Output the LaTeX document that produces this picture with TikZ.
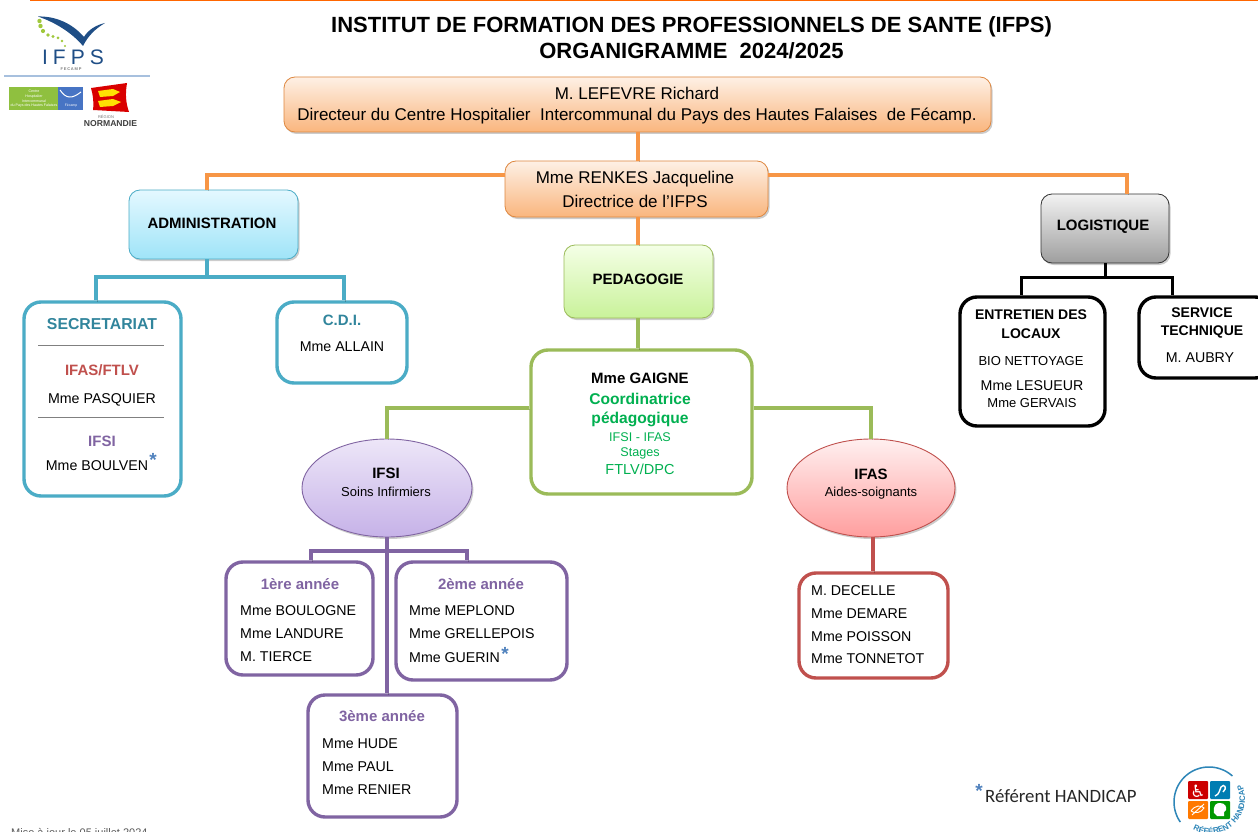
\documentclass[tikz,border=0pt]{standalone}
\usepackage{fontspec}
\setmainfont{Liberation Sans}
\newfontfamily\carl{Carlito}
\newfontfamily\dejav{DejaVu Sans}
\usetikzlibrary{shadows,shapes.geometric,decorations.text,calc}
\newcommand\fs[1]{\fontsize{#1}{#1}\selectfont}
\definecolor{cteal}{HTML}{4BACC6}
\definecolor{cgreen}{HTML}{9BBB59}
\definecolor{cpurple}{HTML}{8064A2}
\definecolor{cred}{HTML}{C0504D}
\definecolor{corange}{HTML}{F79646}
\definecolor{ctext}{HTML}{00B050}
\definecolor{cnavy}{HTML}{1F4E86}
\definecolor{cstar}{HTML}{4F81BD}
\definecolor{tteal}{HTML}{31859C}
\definecolor{torange}{HTML}{FF6600}
\definecolor{cbadge}{HTML}{2E86B8}
\definecolor{cdots}{HTML}{A0C83C}
\definecolor{clogo}{HTML}{8FC03F}
\definecolor{admtop}{HTML}{E4F8FF}
\definecolor{admbot}{HTML}{9FE4F8}
\definecolor{pedtop}{HTML}{F4FFE6}
\definecolor{pedbot}{HTML}{C9F29A}
\definecolor{ifstop}{HTML}{EDE6F8}
\definecolor{ifsbot}{HTML}{C6B2E8}
\tikzset{
  x=1pt,y=-1pt,
  sh/.style={drop shadow={shadow xshift=1.5pt,shadow yshift=-2pt,opacity=.2,fill=black}},
  grad/.style={draw=#1,line width=.8pt,rounded corners=11pt,sh,inner sep=0pt},
  wbox/.style={draw=#1,line width=3.4pt,rounded corners=17pt,fill=white,inner sep=0pt},
  ell/.style={ellipse,draw=#1,line width=.9pt,inner sep=0pt,sh},
  wire/.style={draw=#1,line width=3.4pt,preaction={draw=black,opacity=.2,transform canvas={xshift=.8pt,yshift=-1.2pt}}},
  t/.style={inner sep=0pt,anchor=center,text=#1,yshift=-1pt},
  t/.default=black,
  l/.style={inner sep=0pt,anchor=west,font=\fs{14.2},yshift=-1pt},
  b/.style={font=\bfseries\fs{15}},
  n/.style={font=\fs{14.2}},
  orangegrad/.style={top color=corange!14,bottom color=corange!70},
}
\newcommand\bx[7]{%
  \node[#2,minimum width=#5pt-#3pt,minimum height=#6pt-#4pt,#7] (#1) at ({(#3+#5)/2},{(#4+#6)/2}) {};}
\begin{document}
\begin{tikzpicture}
\useasboundingbox (0,0) rectangle (1258,832);
\fill[white] (0,0) rectangle (1258,832);
\draw[torange,line width=1.2pt] (30,.5) -- (1258,.5);

% titles
\node[t,font=\bfseries\fs{22}] (title1) at (691.5,26) {INSTITUT DE FORMATION DES PROFESSIONNELS DE SANTE (IFPS)};
\node[t,font=\bfseries\fs{22}] (title2) at (691.5,50) {ORGANIGRAMME\ \ 2024/2025};

% coloured boxes
\bx{dir}{grad=corange!90!black}{284}{77}{991}{132}{orangegrad}
\bx{renkes}{grad=corange!90!black}{505}{161}{768}{217}{orangegrad}
\bx{admin}{grad=cteal}{129}{190}{298}{259}{top color=admtop,bottom color=admbot}
\bx{peda}{grad=cgreen}{564}{245}{713}{318}{top color=pedtop,bottom color=pedbot}
\bx{logi}{grad=black!80}{1041}{194}{1169}{263}{top color=black!5,bottom color=black!38}
\bx{ifsi}{ell=cpurple}{302}{439}{472}{537}{top color=ifstop,bottom color=ifsbot}
\bx{ifas}{ell=cred}{787}{439}{955}{537}{top color=red!6,bottom color=red!38}

% white boxes
\bx{secr}{wbox=cteal}{24}{302}{181}{496}{}
\bx{cdi}{wbox=cteal}{277}{302}{407}{383}{}
\bx{ent}{wbox=black}{960}{297}{1105}{426}{}
\bx{serv}{wbox=black}{1139}{297}{1272}{378}{}
\bx{gaigne}{wbox=cgreen}{531}{350}{752}{494}{}
\bx{an1}{wbox=cpurple}{226}{562}{373}{675}{}
\bx{an2}{wbox=cpurple}{396}{562}{567}{680}{}
\bx{an3}{wbox=cpurple}{308}{695}{457}{817}{}
\bx{ifasl}{wbox=cred}{799}{573}{948}{678}{}

% helper columns and rows for the connectors
\coordinate (xC) at (638,0);
\coordinate (xA) at (207,0);
\coordinate (xL) at (1127,0);
\coordinate (xS) at (96,0);
\coordinate (xD) at (344,0);
\coordinate (xE) at (1021,0);
\coordinate (xV) at (1172,0);
\coordinate (xI) at (387,0);
\coordinate (xF) at (871,0);
\coordinate (xG) at (873,0);
\coordinate (xK) at (1105,0);
\coordinate (x1) at (311,0);
\coordinate (x2) at (467,0);
\coordinate (yR) at (0,175);
\coordinate (yA) at (0,277);
\coordinate (yG) at (0,408);
\coordinate (yI) at (0,551);

% connectors
\draw[wire=corange] (xC |- dir.south) -- (xC |- renkes.north);
\draw[wire=corange] (renkes.west |- yR) -| (xA |- admin.north);
\draw[wire=corange] (renkes.east |- yR) -| (xL |- logi.north);
\draw[wire=corange] (xC |- renkes.south) -- (xC |- peda.north);
\draw[wire=cgreen] (xC |- peda.south) -- (xC |- gaigne.north);
\draw[wire=cgreen] (gaigne.west |- yG) -| (xI |- ifsi.north);
\draw[wire=cgreen] (gaigne.east |- yG) -| (xF |- ifas.north);
\draw[wire=cteal] (xA |- admin.south) -- (xA |- yA);
\draw[wire=cteal] (xS |- secr.north) |- (xD |- yA) -- (xD |- cdi.north);
\draw[wire=black,line width=3pt] (xK |- logi.south) -- (xK |- yA);
\draw[wire=black,line width=3pt] (xE |- ent.north) |- (xV |- yA) -- (xV |- serv.north);
\draw[wire=cpurple] (xI |- ifsi.south) -- (xI |- an3.north);
\draw[wire=cpurple] (x1 |- an1.north) |- (x2 |- yI) -- (x2 |- an2.north);
\draw[wire=cred] (xG |- ifas.south) -- (xG |- ifasl.north);

% text of the upper boxes
\node[t,font=\fs{17}] (d1) at (637,92) {M. LEFEVRE Richard};
\node[t,font=\fs{17}] (d2) at (637,115.5) {Directeur du Centre Hospitalier\ \ Intercommunal du Pays des Hautes Falaises\ \ de Fécamp.};
\node[t,font=\fs{17}] (r1) at (635,178) {Mme RENKES Jacqueline};
\node[t,font=\fs{17}] (r2) at (635,200) {Directrice de l’IFPS};
\node[t,b] (ad) at (212,222) {ADMINISTRATION};
\node[t,b] (pe) at (638,278) {PEDAGOGIE};
\node[t,b] (lo) at (1103,226) {LOGISTIQUE};

% secretariat
\node[t=tteal,font=\bfseries\fs{15.8}] (s1) at (102,323) {SECRETARIAT};
\draw[black!50,line width=.8pt] (38,345.5) -- (164,345.5);
\node[t=cred,b] (s2) at (102,369) {IFAS/FTLV};
\node[t,n] (s3) at (102,399) {Mme PASQUIER};
\draw[black!50,line width=.8pt] (38,417) -- (164,417);
\node[t=cpurple,b] (s4) at (102,440) {IFSI};
\node[t,n] (s5) at (97,465) {Mme BOULVEN};
\node[t=cstar,font=\bfseries\fs{19}] (s6) at (153,459) {*};

% cdi
\node[t=tteal,b] (c1) at (342,319) {C.D.I.};
\node[t,n] (c2) at (342,346) {Mme ALLAIN};

% logistique children
\node[t,font=\bfseries\fs{14}] (e1) at (1031,314) {ENTRETIEN DES};
\node[t,font=\bfseries\fs{14}] (e2) at (1031,333) {LOCAUX};
\node[t,font=\fs{13}] (e3) at (1031,360) {BIO NETTOYAGE};
\node[t,n] (e4) at (1032,385) {Mme LESUEUR};
\node[t,font=\fs{13}] (e5) at (1032,402) {Mme GERVAIS};
\node[t,font=\bfseries\fs{14}] (f1) at (1202,312) {SERVICE};
\node[t,font=\bfseries\fs{14}] (f2) at (1202,331) {TECHNIQUE};
\node[t,n] (f3) at (1200,357) {M. AUBRY};

% gaigne
\node[t,font=\bfseries\fs{15}] (g1) at (640,377) {Mme GAIGNE};
\node[t=ctext,font=\bfseries\fs{15.6}] (g2) at (640,398) {Coordinatrice};
\node[t=ctext,font=\bfseries\fs{15.6}] (g3) at (640,418) {pédagogique};
\node[t=ctext,font=\fs{12.6}] (g4) at (640,436) {IFSI - IFAS};
\node[t=ctext,font=\fs{12.6}] (g5) at (640,452) {Stages};
\node[t=ctext,font=\fs{14.5}] (g6) at (640,468) {FTLV/DPC};

% ellipses
\node[t,b] (i1) at (386,472) {IFSI};
\node[t,font=\fs{13}] (i2) at (386,491) {Soins Infirmiers};
\node[t,b] (a1) at (871,473) {IFAS};
\node[t,font=\fs{13}] (a2) at (871,492) {Aides-soignants};

% years
\node[t=cpurple,b] (y1) at (300,583) {1ère année};
\node[l] (y1a) at (240,610) {Mme BOULOGNE};
\node[l] (y1b) at (240,633) {Mme LANDURE};
\node[l] (y1c) at (240,656) {M. TIERCE};
\node[t=cpurple,b] (y2) at (481,583) {2ème année};
\node[l] (y2a) at (409,610) {Mme MEPLOND};
\node[l] (y2b) at (409,633) {Mme GRELLEPOIS};
\node[l] (y2c) at (409,657) {Mme GUERIN};
\node[t=cstar,font=\bfseries\fs{19}] (y2s) at (505,653) {*};
\node[t=cpurple,b] (y3) at (382,715) {3ème année};
\node[l] (y3a) at (322,743) {Mme HUDE};
\node[l] (y3b) at (322,766) {Mme PAUL};
\node[l] (y3c) at (322,789) {Mme RENIER};

% ifas staff
\node[l] (z1) at (811,590) {M. DECELLE};
\node[l] (z2) at (811,613) {Mme DEMARE};
\node[l] (z3) at (811,636) {Mme POISSON};
\node[l] (z4) at (811,658) {Mme TONNETOT};

% referent
\node[t=cstar,font=\bfseries\fs{19}] (rs) at (979,790) {*};
\node[inner sep=0pt,anchor=west,font=\carl\fs{18.8},text=black!85] (rt) at (985,796) {Référent HANDICAP};

% footnote, cut by the page edge
\node[inner sep=0pt,anchor=west,font=\fs{11},text=black!65] (fn) at (11,834) {Mise à jour le 05 juillet 2024};

% IFPS logo
\fill[cnavy] (38,16.5) .. controls (55,16) and (72,23) .. (84,37)
  .. controls (88,30) and (96,25) .. (105,23)
  .. controls (95,29) and (88,36) .. (83,46)
  .. controls (73,34) and (57,23) .. (38,16.5) -- cycle;
\foreach \p/\r in {(39.5,21)/2.2,(40.5,26)/2.2,(43,31)/2.1,(48,35)/1.9,(53,36.5)/1.7,(58,38)/1.5,(62,41)/1.3,(65,46)/1.1}
  \fill[cdots] \p circle (\r);
\node[t=cnavy,font=\fs{21}\addfontfeature{LetterSpace=24}] (lg1) at (73,56) {IFPS};
\node[t=black!50,font=\bfseries\fs{4}\addfontfeature{LetterSpace=20}] (lg2) at (71,68) {FECAMP};
\draw[cstar!50,line width=1.4pt] (4,76) -- (150,76);
\fill[clogo] (9,87) rectangle (58,110);
\fill[cstar!90!blue] (58,87) rectangle (83,110);
\draw[white,line width=1pt] (60,90) .. controls (66,99) and (72,99) .. (81,92);
\node[t=white,font=\fs{3.6},align=center] (lg3) at (34,98) {Centre\\[1pt]Hospitalier\\[1pt]Intercommunal\\[1pt]du Pays des Hautes Falaises};
\node[t=white,font=\fs{3.4}] (lg4) at (71,105) {Fécamp};
\fill[red!85!black] (91,88) -- (127,83) .. controls (125,95) and (126,103) .. (129,112) -- (93,110) .. controls (94,102) and (93,95) .. (91,88) -- cycle;
\fill[yellow!85!orange] (98,91) -- (113,89) -- (120,92) -- (113,96) -- (100,97) -- cycle;
\fill[yellow!85!orange] (98,101) -- (113,99) -- (121,102) -- (113,106) -- (100,107) -- cycle;
\node[t=black!55,font=\fs{4}] (lg5) at (106,116) {RÉGION};
\node[t=black!75,font=\bfseries\fs{8.6}] (lg6) at (110.5,123) {NORMANDIE};

% badge
\draw[cbadge,line width=1.5pt] plot[domain=-215:-48,samples=50,smooth] ({1209+35*cos(\x)},{802+35*sin(\x)});
\fill[red!80!black,rounded corners=1pt] (1188,781) rectangle (1208,799);
\fill[blue!30!cyan!70!black,rounded corners=1pt] (1210,781) rectangle (1230,799);
\fill[orange!95!red,rounded corners=1pt] (1188,801) rectangle (1208,819);
\fill[green!60!black,rounded corners=1pt] (1210,801) rectangle (1230,819);
\node[t=white,font=\dejav\fs{17}] (ic1) at (1198,790) {♿};
\draw[white,line width=1.4pt] (1215,796) .. controls (1220,794) and (1219,790) .. (1221,787) .. controls (1224,783) and (1228,788) .. (1223,792);
\draw[white,line width=.9pt] (1192,815) -- (1204,804) (1191,811) .. controls (1195,805) and (1201,805) .. (1204,808) .. controls (1201,813) and (1195,814) .. (1191,811);
\fill[white] (1214,813) .. controls (1213,805) and (1216,803) .. (1220,803) .. controls (1225,803) and (1227,807) .. (1226,810) -- (1224,812) -- (1224,816) -- (1217,816) -- cycle;
\begin{scope}[shift={(1210,799)},y=1pt]
\path[decorate,decoration={text along path,text align=center,text={|\fs{8}\bfseries\color{cbadge}|RÉFÉRENT HANDICAP}}]
  (225:35) arc[start angle=225,end angle=400,radius=35];
\end{scope}
\end{tikzpicture}
\end{document}
